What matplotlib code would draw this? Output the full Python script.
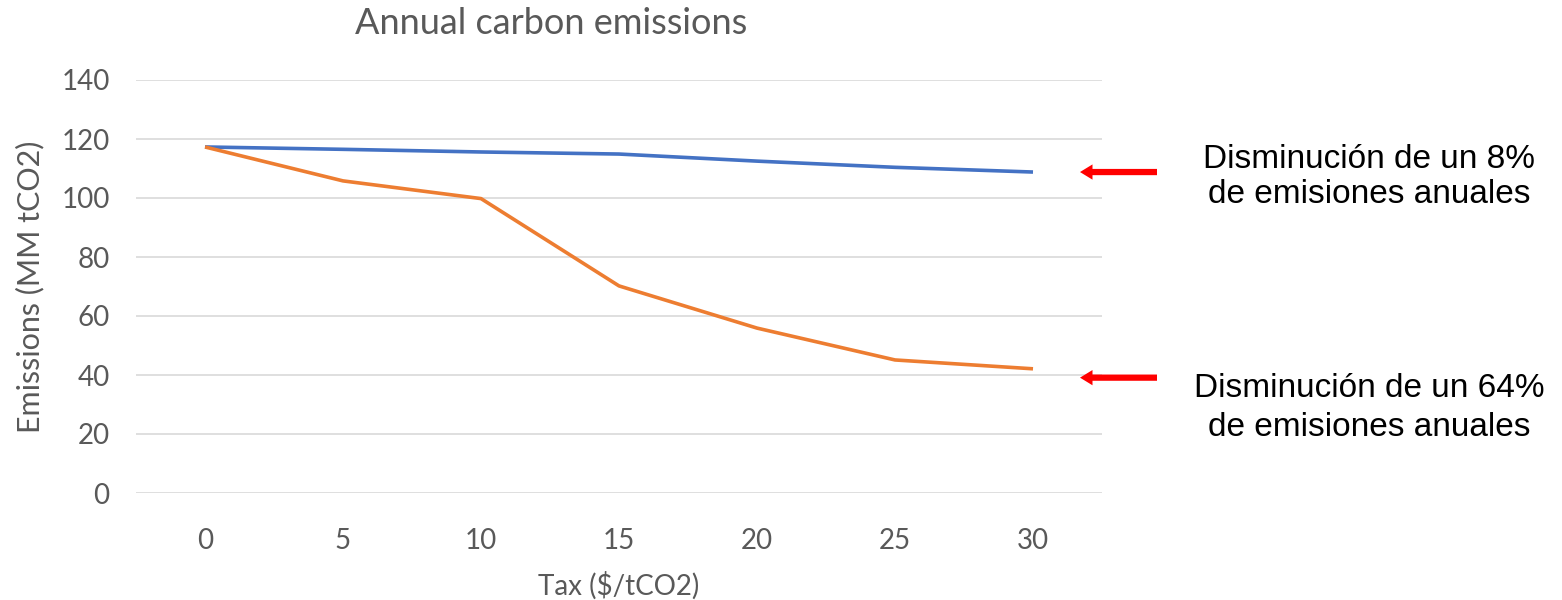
import matplotlib
matplotlib.use('Agg')
import matplotlib.pyplot as plt

# data
tax = ['0', '5', '10', '15', '20', '25', '30']
emis_low = [117.3, 116.5, 115.6, 114.9, 112.5, 110.4, 108.8]
emis_high = [117.3, 105.8, 99.8, 70.2, 55.9, 45.1, 42.1]
yticks = [0, 20, 40, 60, 80, 100, 120, 140]
notes = ['Disminución de un 8%\nde emisiones anuales',
         'Disminución de un 64%\nde emisiones anuales']

grey = '#595959'
fig = plt.figure(figsize=(15.62, 6), dpi=100)
ax = fig.add_axes([136/1562, 1-493/600, (1102-136)/1562, (493-80)/600])

x = range(len(tax))
ax.plot(x, emis_low, color='#4472C4', lw=2.6, solid_capstyle='butt')
ax.plot(x, emis_high, color='#ED7D31', lw=2.6, solid_capstyle='butt')

ax.set_xlim(-0.5, len(tax)-0.5)
ax.set_ylim(0, 140)
ax.set_yticks(yticks)
ax.set_xticks(list(x))
ax.set_xticklabels(tax)
ax.grid(axis='y', color='#d9d9d9', lw=1.2)
ax.set_axisbelow(True)
for s in ax.spines.values():
    s.set_visible(False)
ax.tick_params(length=0, labelsize=20, labelcolor=grey)
ax.tick_params(axis='y', pad=19)
ax.tick_params(axis='x', pad=25)
for lab in ax.get_xticklabels() + ax.get_yticklabels():
    lab.set_family('Lato')
ax.set_xlabel('Tax ($/tCO2)', fontsize=20, color=grey, family='Lato', labelpad=13)
ax.set_ylabel('Emissions (MM tCO2)', fontsize=22, color=grey, family='Lato', labelpad=12)
fig.text(551/1562, 1-24/600, 'Annual carbon emissions', ha='center', va='center',
         fontsize=26, color=grey, family='Lato')

# annotations with red arrows
for note, yv, ty, ls in zip(notes, [emis_low[-1], emis_high[-1] - 3],
                            [177/600, 408/600], [1.2, 1.35]):
    ax.annotate('', xy=(1080/1562, yv), xycoords=('figure fraction', 'data'),
                xytext=(1157/1562, yv), textcoords=('figure fraction', 'data'),
                arrowprops=dict(arrowstyle='simple,head_length=0.9,head_width=1.1,tail_width=0.45',
                                color='#FF0000', lw=0, shrinkA=0, shrinkB=0),
                annotation_clip=False)
    fig.text(1369/1562, 1-ty, note, ha='center', va='center', fontsize=24,
             family='Liberation Sans', color='black', linespacing=ls)

fig.savefig('out.png', dpi=100)
